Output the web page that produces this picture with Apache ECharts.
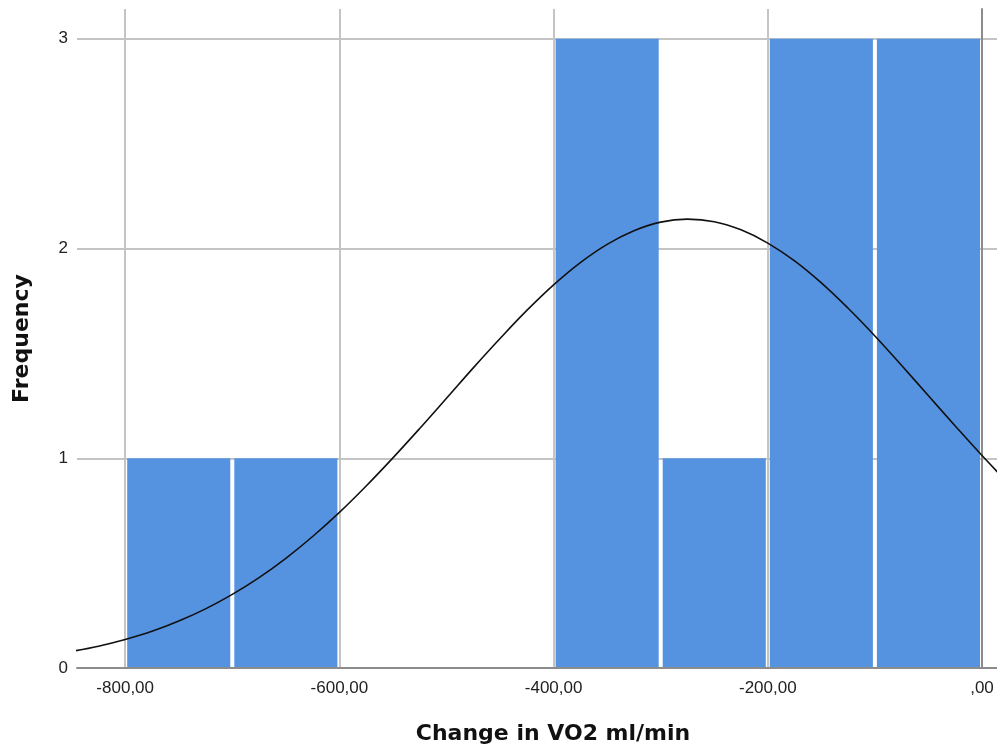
<!DOCTYPE html>
<html>
<head>
<meta charset="utf-8">
<script src="https://cdn.jsdelivr.net/npm/echarts@6/dist/echarts.min.js"></script>
<style>html,body{margin:0;padding:0;background:#fff;}#chart{width:997px;height:751px;}</style>
</head>
<body>
<div id="chart"></div>
<script>
// Histogram bins (lower edge, upper edge) and frequencies
var binStarts = [-800, -700, -600, -500, -400, -300, -200, -100];
var binEnds   = [-700, -600, -500, -400, -300, -200, -100, 0];
var counts    = [1, 1, 0, 0, 3, 1, 3, 3];
// Normal curve
var curveX = [-850, -825, -800, -775, -750, -725, -700, -675, -650, -625, -600, -575, -550, -525, -500, -475, -450, -425, -400, -375, -350, -325, -300, -275, -250, -225, -200, -175, -150, -125, -100, -75, -50, -25, 0, 25];
var curveY = [0.079, 0.104, 0.136, 0.175, 0.224, 0.282, 0.351, 0.431, 0.523, 0.627, 0.742, 0.868, 1.002, 1.142, 1.286, 1.431, 1.571, 1.705, 1.827, 1.933, 2.020, 2.085, 2.126, 2.140, 2.128, 2.089, 2.026, 1.941, 1.836, 1.715, 1.583, 1.442, 1.298, 1.154, 1.013, 0.878];
// Tick labels
var xTicks = [-800, -600, -400, -200, 0];
var xTickLabels = ['-800,00', '-600,00', '-400,00', '-200,00', ',00'];
var yTicks = [0, 1, 2, 3];
var yTickLabels = ['0', '1', '2', '3'];

var barData = [];
for (var i = 0; i < counts.length; i++) {
  if (counts[i] > 0) barData.push([binStarts[i], binEnds[i], counts[i]]);
}
var lineData = curveX.map(function (x, i) { return [x, curveY[i]]; });

var chart = echarts.init(document.getElementById('chart'), null, {renderer: 'canvas'});
chart.setOption({
  animation: false,
  backgroundColor: '#ffffff',
  grid: {left: 77, right: 0, top: 9, bottom: 83, containLabel: false},
  xAxis: {
    type: 'value',
    min: -845,
    max: 14,
    name: 'Change in VO2 ml/min',
    nameLocation: 'middle',
    nameGap: 55,
    nameTextStyle: {fontFamily: 'DejaVu Sans', fontWeight: 'bold', fontSize: 22, color: '#111', padding: [0, 0, 0, 32]},
    axisLine: {show: true, onZero: false, lineStyle: {color: '#8c8c8c', width: 2}},
    axisTick: {show: false, customValues: xTicks},
    axisLabel: {
      customValues: xTicks,
      margin: 12,
      fontFamily: 'Liberation Sans, Arial, sans-serif',
      fontSize: 17,
      color: '#222',
      formatter: function (v) { var k = xTicks.indexOf(v); return k >= 0 ? xTickLabels[k] : ''; }
    },
    splitLine: {show: true, lineStyle: {color: '#c4c4c4', width: 2}}
  },
  yAxis: {
    type: 'value',
    min: 0,
    max: 3.142,
    name: 'Frequency',
    nameLocation: 'middle',
    nameGap: 44,
    nameTextStyle: {fontFamily: 'DejaVu Sans', fontWeight: 'bold', fontSize: 22, color: '#111'},
    axisLine: {show: true, lineStyle: {color: '#8c8c8c', width: 2}},
    axisTick: {show: false, customValues: yTicks},
    axisLabel: {
      customValues: yTicks,
      margin: 9,
      padding: [6, 0, 0, 0],
      fontFamily: 'Liberation Sans, Arial, sans-serif',
      fontSize: 17,
      color: '#222',
      formatter: function (v) { var k = yTicks.indexOf(v); return k >= 0 ? yTickLabels[k] : ''; }
    },
    splitLine: {show: true, lineStyle: {color: '#c4c4c4', width: 2}}
  },
  series: [
    {
      type: 'custom',
      data: barData,
      encode: {x: [0, 1], y: 2},
      renderItem: function (params, api) {
        var p0 = api.coord([api.value(0), api.value(2)]);
        var p1 = api.coord([api.value(1), 0]);
        return {
          type: 'rect',
          shape: {x: p0[0] + 2, y: p0[1], width: p1[0] - p0[0] - 4, height: p1[1] - p0[1] - 1},
          style: {fill: '#5593e1'}
        };
      },
      z: 2
    },
    {
      type: 'line',
      data: lineData,
      smooth: 0.4,
      showSymbol: false,
      symbol: 'none',
      lineStyle: {color: '#111', width: 1.6},
      z: 3
    }
  ]
});
</script>
</body>
</html>
